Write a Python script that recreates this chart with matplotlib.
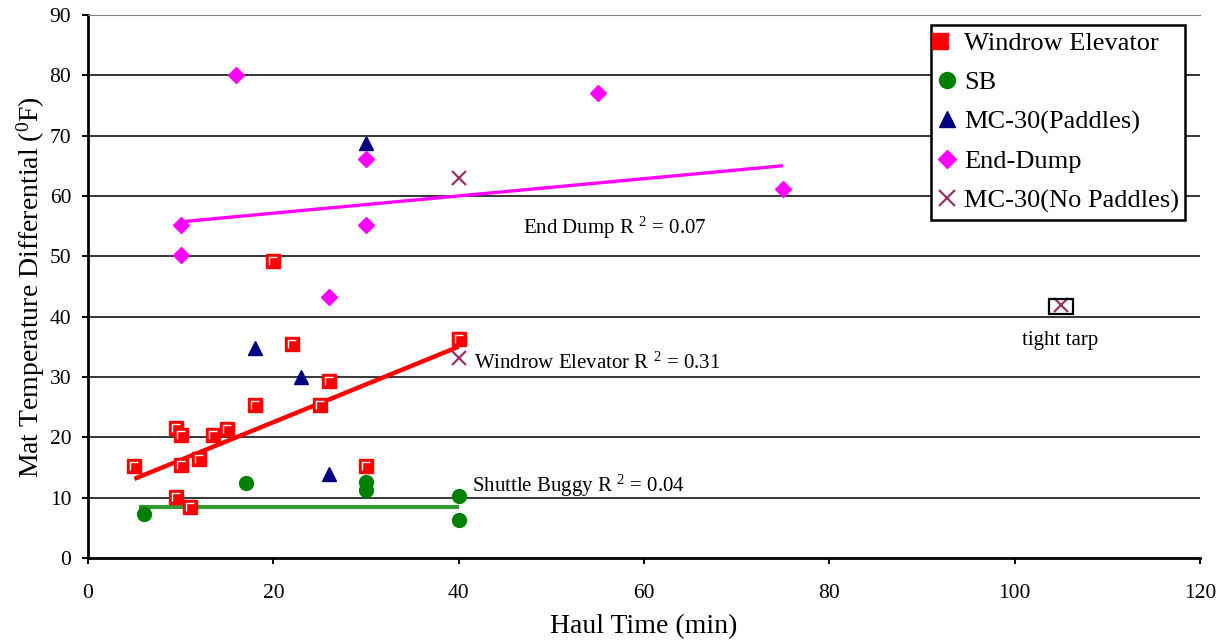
#!/usr/bin/env python3

import numpy as np
import matplotlib
matplotlib.use('Agg')
import matplotlib.pyplot as plt
from matplotlib.path import Path
from matplotlib.patches import Rectangle
from matplotlib.legend_handler import HandlerTuple

# values
we_x = [5, 9.5, 10, 10, 12, 13.5, 15, 18, 20, 22, 25, 26, 30, 40, 9.5, 11]
we_y = [15.2, 21.5, 20.4, 15.4, 16.5, 20.4, 21.4, 25.4, 49.3, 35.4, 25.4, 29.3, 15.2, 36.3, 10.2, 8.4]

sb_x = [6, 17, 30, 30, 40, 40]
sb_y = [7.3, 12.4, 12.6, 11.3, 10.3, 6.3]

mcp_x = [30, 18, 23, 26]
mcp_y = [68.8, 34.9, 30.0, 14.0]

ed_x = [16, 10, 10, 30, 30, 26, 55, 75]
ed_y = [80, 55.2, 50.2, 66.1, 55.2, 43.2, 77.1, 61.1]

mcn_x = [40, 40, 105]
mcn_y = [63, 33.1, 41.9]

# trendlines as drawn in the reference: slope, intercept, x from, x to
we_trend = [0.626, 10.0, 5, 40]
ed_trend = [0.143, 54.3, 10, 75]
sb_trend = [0.0, 8.45, 5.5, 40]

x_ticks = [0, 20, 40, 60, 80, 100, 120]
y_ticks = [0, 10, 20, 30, 40, 50, 60, 70, 80, 90]

plt.rcParams['font.family'] = ['Liberation Serif', 'DejaVu Serif']
plt.rcParams['mathtext.fontset'] = 'custom'
plt.rcParams['mathtext.rm'] = 'Liberation Serif'
plt.rcParams['mathtext.default'] = 'regular'

fig = plt.figure(figsize=(12.26, 6.4), dpi=100)
ax = fig.add_axes([0.0718, 0.128, 0.907, 0.8485])

# grid lines
for y in y_ticks[1:-1]:
    ax.axhline(y, color='black', lw=1.1, zorder=0)

def trend(ax, coef, color, lw):
    xs = np.array([coef[2], coef[3]])
    ax.plot(xs, coef[0] * xs + coef[1], color=color, lw=lw, zorder=2,
            solid_capstyle='butt')

trend(ax, we_trend, '#ff0000', 3.2)
trend(ax, ed_trend, '#ff00ff', 2.4)
trend(ax, sb_trend, '#339933', 3.0)

gamma = Path([(-0.5, -0.5), (-0.5, 0.5), (0.5, 0.5)],
             [Path.MOVETO, Path.LINETO, Path.LINETO])

sq, = ax.plot(we_x, we_y, ls='none', marker='s', ms=9.5, mfc='#ff0000',
              mec='#ff0000', zorder=3)
gm, = ax.plot(we_x, we_y, ls='none', marker=gamma, ms=5.5, mfc='none',
              mec='white', mew=1.0, zorder=4)
sbh, = ax.plot(sb_x, sb_y, ls='none', marker='o', ms=10, mfc='#008000',
               mec='#008000', zorder=3)
mph, = ax.plot(mcp_x, mcp_y, ls='none', marker='^', ms=10.5, mfc='#000080',
               mec='#000080', zorder=3)
edh, = ax.plot(ed_x, ed_y, ls='none', marker='D', ms=8, mfc='#ff00ff',
               mec='#ff00ff', zorder=3)
mnh, = ax.plot(mcn_x, mcn_y, ls='none', marker='x', ms=10.5, mec='#993366',
               mew=1.6, zorder=3)

# box round the tight tarp point
ax.add_patch(Rectangle((mcn_x[2] - 1.3, mcn_y[2] - 1.5), 2.6, 2.5,
                       fill=False, ec='black', lw=1.6, zorder=5))

ax.text(46.9, 54.7, r'End Dump R $^{2}$ = 0.07', fontsize=15, va='center')
ax.text(41.6, 32.3, r'Windrow Elevator R $^{2}$ = 0.31', fontsize=15, va='center')
ax.text(41.4, 11.9, r'Shuttle Buggy R $^{2}$ = 0.04', fontsize=15, va='center')
ax.text(104.9, 36.0, 'tight tarp', fontsize=15, ha='center', va='center')

ax.set_xlim(0, 120)
ax.set_ylim(0, 90)
ax.set_xticks(x_ticks)
ax.set_yticks(y_ticks)
ax.tick_params(labelsize=15.5, direction='out', length=4, width=1.4)
ax.tick_params(axis='x', pad=15)
ax.tick_params(axis='y', pad=8)
ax.spines['right'].set_visible(False)
ax.spines['top'].set_color('#808080')
ax.spines['left'].set_linewidth(2)
ax.spines['bottom'].set_linewidth(2)

ax.set_xlabel('Haul Time (min)', fontsize=20, labelpad=8)
ax.set_ylabel(r'Mat Temperature Differential ($^{0}$F)', fontsize=20, labelpad=2)

leg = ax.legend([(sq, gm), sbh, mph, edh, mnh],
                ['Windrow Elevator', 'SB', 'MC-30(Paddles)', 'End-Dump',
                 'MC-30(No Paddles)'],
                handler_map={tuple: HandlerTuple(ndivide=None)},
                loc='upper left', bbox_to_anchor=(0.758, 0.982),
                fontsize=19, fancybox=False, framealpha=1, edgecolor='black',
                markerscale=1.15, handlelength=0.7, handletextpad=0.3,
                labelspacing=0.6, borderpad=0.25, borderaxespad=0)
leg.get_frame().set_linewidth(1.8)

fig.savefig('out.png', dpi=100)
